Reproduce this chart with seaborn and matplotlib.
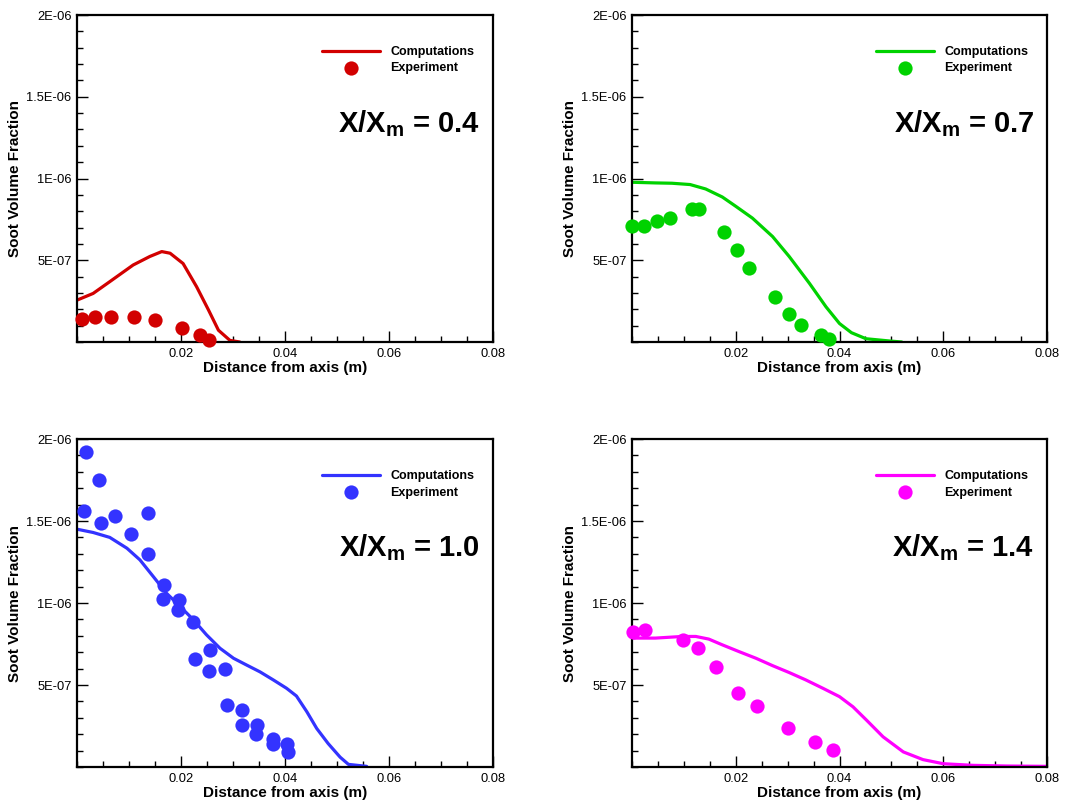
import numpy as np
import pandas as pd
import matplotlib
matplotlib.use("Agg")
import matplotlib.pyplot as plt
from matplotlib.ticker import MultipleLocator, FixedLocator
import seaborn as sns

# ---- data -------------------------------------------------------------
stations = ["0.4", "0.7", "1.0", "1.4"]
colors = ["#D20000", "#00D200", "#3333FF", "#FF00FF"]

# computed radial profiles (r [m], soot volume fraction)
comp_r_04 = [0.0, 0.0031, 0.0063, 0.0108, 0.014, 0.0163, 0.0179, 0.0204, 0.023, 0.0253, 0.0272, 0.0294, 0.0313]
comp_f_04 = [2.56e-7, 2.97e-7, 3.69e-7, 4.71e-7, 5.23e-7, 5.53e-7, 5.43e-7, 4.8e-7, 3.38e-7, 1.95e-7, 0.72e-7, 0.1e-7, 0.0]

comp_r_07 = [0.0, 0.0045, 0.0077, 0.0112, 0.0142, 0.0174, 0.02, 0.0232, 0.0271, 0.0303, 0.0342, 0.0374, 0.04, 0.0423, 0.0451, 0.0497, 0.052]
comp_f_07 = [9.77e-7, 9.73e-7, 9.71e-7, 9.63e-7, 9.36e-7, 8.87e-7, 8.3e-7, 7.58e-7, 6.45e-7, 5.23e-7, 3.59e-7, 2.15e-7, 1.13e-7, 0.57e-7, 0.2e-7, 0.06e-7, 0.0]

comp_r_10 = [0.0, 0.0031, 0.0063, 0.0096, 0.0121, 0.0147, 0.0172, 0.0198, 0.0224, 0.0249, 0.0275, 0.0301, 0.0326, 0.0352,
             0.0378, 0.0403, 0.0422, 0.0442, 0.0461, 0.0483, 0.0506, 0.0522, 0.0557]
comp_f_10 = [1.45e-6, 1.43e-6, 1.40e-6, 1.334e-6, 1.263e-6, 1.16e-6, 1.06e-6, 0.98e-6, 0.897e-6, 0.806e-6, 0.724e-6, 0.663e-6,
             0.622e-6, 0.58e-6, 0.53e-6, 0.48e-6, 0.433e-6, 0.337e-6, 0.235e-6, 0.143e-6, 0.06e-6, 0.016e-6, 0.004e-6]

comp_r_14 = [0.0, 0.0045, 0.0097, 0.0123, 0.0148, 0.0174, 0.0206, 0.0239, 0.0271, 0.0303, 0.0335, 0.0368, 0.04, 0.0426,
             0.0452, 0.0484, 0.0523, 0.0561, 0.06, 0.0658, 0.0723, 0.08]
comp_f_14 = [7.86e-7, 7.86e-7, 7.96e-7, 7.96e-7, 7.8e-7, 7.45e-7, 7.04e-7, 6.63e-7, 6.18e-7, 5.76e-7, 5.31e-7, 4.8e-7, 4.29e-7,
             3.67e-7, 2.86e-7, 1.84e-7, 0.92e-7, 0.45e-7, 0.2e-7, 0.1e-7, 0.06e-7, 0.04e-7]

# measured profiles
exp_r_04 = [0.0009, 0.0035, 0.0065, 0.011, 0.015, 0.0202, 0.0237, 0.0253]
exp_f_04 = [1.43e-7, 1.54e-7, 1.54e-7, 1.54e-7, 1.37e-7, 0.88e-7, 0.41e-7, 0.14e-7]

exp_r_07 = [0.0, 0.0023, 0.0048, 0.0074, 0.0115, 0.013, 0.0177, 0.0202, 0.0226, 0.0275, 0.0303, 0.0326, 0.0365, 0.0379]
exp_f_07 = [7.07e-7, 7.07e-7, 7.38e-7, 7.58e-7, 8.14e-7, 8.14e-7, 6.7e-7, 5.64e-7, 4.51e-7, 2.77e-7, 1.74e-7, 1.02e-7, 0.41e-7, 0.2e-7]

exp_r_10 = [0.0017, 0.0042, 0.0014, 0.0046, 0.0073, 0.0104, 0.0136, 0.0136, 0.0167, 0.0166, 0.0196, 0.0195, 0.0223,
            0.0227, 0.0256, 0.0254, 0.0284, 0.0288, 0.0317, 0.0317, 0.0346, 0.0344, 0.0376, 0.0376, 0.0403, 0.0406]
exp_f_10 = [19.19e-7, 17.47e-7, 15.64e-7, 14.9e-7, 15.33e-7, 14.2e-7, 15.5e-7, 13.0e-7, 11.1e-7, 10.24e-7, 10.18e-7,
            9.57e-7, 8.86e-7, 6.58e-7, 7.13e-7, 5.87e-7, 6.0e-7, 3.77e-7, 3.46e-7, 2.55e-7, 2.59e-7, 2.04e-7, 1.73e-7,
            1.38e-7, 1.43e-7, 0.92e-7]

exp_r_14 = [0.0002, 0.0026, 0.0098, 0.0128, 0.0161, 0.0205, 0.024, 0.0301, 0.0352, 0.0388]
exp_f_14 = [8.22e-7, 8.33e-7, 7.76e-7, 7.24e-7, 6.12e-7, 4.53e-7, 3.73e-7, 2.35e-7, 1.53e-7, 1.06e-7]

comp_r = [comp_r_04, comp_r_07, comp_r_10, comp_r_14]
comp_f = [comp_f_04, comp_f_07, comp_f_10, comp_f_14]
exp_r = [exp_r_04, exp_r_07, exp_r_10, exp_r_14]
exp_f = [exp_f_04, exp_f_07, exp_f_10, exp_f_14]

x_ticks = [0.02, 0.04, 0.06, 0.08]
x_tick_labels = ["0.02", "0.04", "0.06", "0.08"]
y_ticks = [5e-7, 1e-6, 1.5e-6, 2e-6]
y_tick_labels = ["5E-07", "1E-06", "1.5E-06", "2E-06"]

# ---- style ------------------------------------------------------------
sns.set_theme(style="white")
plt.rcParams["font.family"] = ["Liberation Sans", "DejaVu Sans"]
plt.rcParams["text.color"] = "black"
plt.rcParams["axes.labelcolor"] = "black"
plt.rcParams["xtick.color"] = "black"
plt.rcParams["ytick.color"] = "black"
plt.rcParams["mathtext.fontset"] = "custom"
plt.rcParams["mathtext.bf"] = "Liberation Sans:bold"
plt.rcParams["mathtext.rm"] = "Liberation Sans:bold"
plt.rcParams["mathtext.it"] = "Liberation Sans:bold"

fig = plt.figure(figsize=(10.65, 8.02), dpi=100)
fig.patch.set_facecolor("white")

W, H = 1065.0, 802.0
boxes = [(77, 15, 493, 342), (632, 15, 1047, 342), (77, 439, 493, 767), (632, 439, 1047, 767)]

for i, (x0, y0, x1, y1) in enumerate(boxes):
    ax = fig.add_axes([x0 / W, 1 - y1 / H, (x1 - x0) / W, (y1 - y0) / H])
    col = colors[i]
    df_c = pd.DataFrame({"r": comp_r[i], "fv": comp_f[i]})
    df_e = pd.DataFrame({"r": exp_r[i], "fv": exp_f[i]})
    sns.lineplot(data=df_c, x="r", y="fv", ax=ax, color=col, lw=2.3, label="Computations",
                 sort=False, estimator=None)
    sns.scatterplot(data=df_e, x="r", y="fv", ax=ax, color=col, s=105, linewidth=0,
                    label="Experiment", clip_on=False, zorder=4)

    ax.set_xlim(0, 0.08)
    ax.set_ylim(0, 2e-6)
    ax.xaxis.set_major_locator(FixedLocator(x_ticks))
    ax.set_xticklabels(x_tick_labels)
    ax.xaxis.set_minor_locator(MultipleLocator(0.005))
    ax.yaxis.set_major_locator(FixedLocator(y_ticks))
    ax.set_yticklabels(y_tick_labels)
    ax.yaxis.set_minor_locator(MultipleLocator(1e-7))
    ax.tick_params(which="both", direction="in", left=True, bottom=True, top=False, right=False,
                   labelsize=9.3, colors="black", width=1.0, pad=4)
    ax.tick_params(which="major", length=8)
    ax.tick_params(which="minor", length=4.5)
    for s in ax.spines.values():
        s.set_linewidth(1.6)
        s.set_color("black")

    ax.set_xlabel("Distance from axis (m)", fontsize=11, fontweight="bold", labelpad=1)
    ax.set_ylabel("Soot Volume Fraction", fontsize=11, fontweight="bold", labelpad=3)

    ax.legend(loc="upper left", bbox_to_anchor=(0.589, 0.905), frameon=False,
              prop={"weight": "bold", "size": 9.0}, handlelength=4.6, handletextpad=0.85,
              labelspacing=0.35, borderpad=0, borderaxespad=0, scatterpoints=1)

    ax.text(0.969, 0.642, r"$\mathbf{X/X_m}$ = " + stations[i], transform=ax.transAxes,
            ha="right", va="baseline", fontsize=21, fontweight="bold")

fig.savefig("out.png", dpi=100, facecolor="white")
